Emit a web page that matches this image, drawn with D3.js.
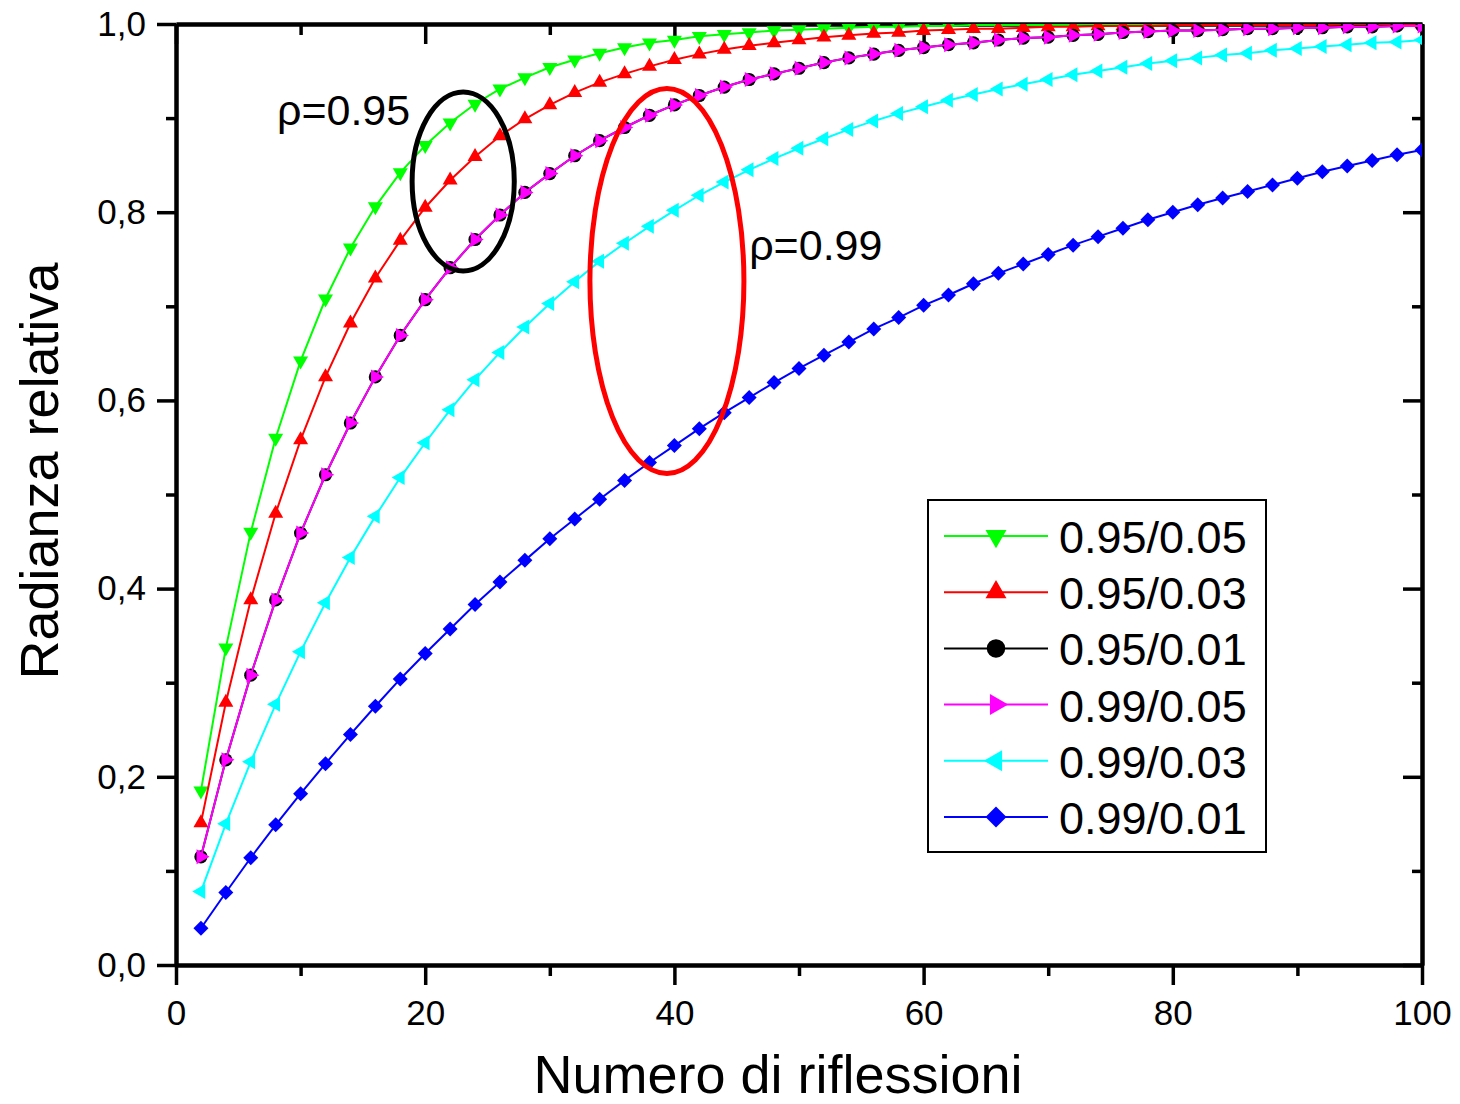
<!DOCTYPE html>
<html>
<head>
<meta charset="utf-8">
<script src="https://cdn.jsdelivr.net/npm/d3@7"></script>
<style>
  body { margin: 0; background: #fff; }
  svg { display: block; }
  text { font-family: "Liberation Sans", Arial, Helvetica, sans-serif; fill: #000; }
</style>
</head>
<body>
<svg id="chart" width="1460" height="1104"></svg>
<script>
// Number of reflections (x values shared by every series)
const reflections = [2,4,6,8,10,12,14,16,18,20,22,24,26,28,30,32,34,36,38,40,
  42,44,46,48,50,52,54,56,58,60,62,64,66,68,70,72,74,76,78,80,
  82,84,86,88,90,92,94,96,98,100];

// Relative radiance for each reflectance / absorption pair
const rad_095_005 = [0.185,0.337,0.460,0.560,0.642,0.708,0.762,0.806,0.842,0.871,
  0.895,0.915,0.931,0.943,0.954,0.962,0.969,0.975,0.980,0.983,
  0.987,0.989,0.991,0.993,0.994,0.995,0.996,0.997,0.997,0.998,
  0.998,0.999,0.999,0.999,0.999,0.999,1.000,1.000,1.000,1.000,
  1.000,1.000,1.000,1.000,1.000,1.000,1.000,1.000,1.000,1.000];
const rad_095_003 = [0.151,0.279,0.388,0.480,0.558,0.625,0.682,0.730,0.770,0.805,
  0.834,0.859,0.881,0.899,0.914,0.927,0.938,0.947,0.955,0.962,
  0.968,0.973,0.977,0.980,0.983,0.986,0.988,0.990,0.991,0.993,
  0.994,0.995,0.995,0.996,0.997,0.997,0.998,0.998,0.998,0.999,
  0.999,0.999,0.999,0.999,0.999,0.999,1.000,1.000,1.000,1.000];
const rad_095_001 = [0.115,0.218,0.308,0.388,0.459,0.521,0.576,0.625,0.669,0.707,
  0.741,0.771,0.797,0.821,0.841,0.860,0.876,0.890,0.903,0.914,
  0.924,0.933,0.941,0.947,0.953,0.959,0.964,0.968,0.972,0.975,
  0.978,0.980,0.983,0.985,0.986,0.988,0.989,0.991,0.992,0.993,
  0.993,0.994,0.995,0.995,0.996,0.996,0.997,0.997,0.998,0.998];
const rad_099_005 = [0.115,0.218,0.308,0.388,0.459,0.521,0.576,0.625,0.669,0.707,
  0.741,0.771,0.797,0.821,0.841,0.860,0.876,0.890,0.903,0.914,
  0.924,0.933,0.941,0.947,0.953,0.959,0.964,0.968,0.972,0.975,
  0.978,0.980,0.983,0.985,0.986,0.988,0.989,0.991,0.992,0.993,
  0.993,0.994,0.995,0.995,0.996,0.996,0.997,0.997,0.998,0.998];
const rad_099_003 = [0.078,0.150,0.216,0.277,0.333,0.385,0.433,0.477,0.518,0.555,
  0.590,0.622,0.651,0.678,0.703,0.726,0.748,0.767,0.785,0.802,
  0.818,0.832,0.845,0.857,0.868,0.878,0.888,0.897,0.905,0.912,
  0.919,0.925,0.931,0.936,0.941,0.946,0.950,0.954,0.958,0.961,
  0.964,0.967,0.969,0.972,0.974,0.976,0.978,0.980,0.981,0.983];
const rad_099_001 = [0.039,0.077,0.114,0.149,0.182,0.214,0.245,0.275,0.304,0.331,
  0.357,0.383,0.407,0.430,0.453,0.474,0.495,0.515,0.534,0.552,
  0.570,0.587,0.603,0.619,0.634,0.648,0.662,0.676,0.688,0.701,
  0.712,0.724,0.735,0.745,0.755,0.765,0.774,0.783,0.792,0.800,
  0.808,0.815,0.822,0.829,0.836,0.843,0.849,0.855,0.861,0.866];

const seriesNames = ["0.95/0.05","0.95/0.03","0.95/0.01","0.99/0.05","0.99/0.03","0.99/0.01"];
const seriesValues = [rad_095_005, rad_095_003, rad_095_001, rad_099_005, rad_099_003, rad_099_001];

// Axis ticks
const xMajorTicks = [0,20,40,60,80,100];
const xMinorTicks = [10,30,50,70,90];
const yMajorTicks = [0,0.2,0.4,0.6,0.8,1.0];
const yMinorTicks = [0.1,0.3,0.5,0.7,0.9];

// Styling per series
const seriesColors = ["#00ff00","#ff0000","#000000","#ff00ff","#00ffff","#0000ff"];
const seriesSymbols = ["down","up","circle","right","left","diamond"];

// Annotations: ellipses in data units and their labels
const groupEllipses = [
  {cx: 23.05, cy: 0.8326, rx: 4.10, ry: 0.0951, color: "#000000"},
  {cx: 39.40, cy: 0.7269, rx: 6.18, ry: 0.2046, color: "#ff0000"}
];
const groupLabels = [
  {text: "ρ=0.95", x: 8.1, y: 0.893},
  {text: "ρ=0.99", x: 46.0, y: 0.749}
];

const svg = d3.select("#chart");
const W = 1460, H = 1104;
const margin = {left: 176, top: 24, right: W - 1422, bottom: H - 965};
const x = d3.scaleLinear().domain([0, 100]).range([margin.left, W - margin.right]);
const y = d3.scaleLinear().domain([0, 1]).range([H - margin.bottom, margin.top]);

const locale = d3.formatLocale({decimal: ",", thousands: ".", grouping: [3], currency: ["", "€"]});
const yFmt = locale.format(".1f");

function styleAxis(g, fontSize) {
  g.attr("font-family", null).attr("font-size", null);
  g.select(".domain").attr("stroke", "#000").attr("stroke-width", 4);
  g.selectAll(".tick line").attr("stroke", "#000").attr("stroke-width", 3.5);
  g.selectAll(".tick text").style("font-size", fontSize + "px").attr("fill", "#000");
}

// Frame (drawn under the data, which is clipped to the plot area)
const axes = svg.append("g");
const x0 = x(0), x1 = x(100), y0 = y(0), y1 = y(1);

axes.append("g").attr("transform", `translate(0,${y0})`)
  .call(d3.axisBottom(x).tickValues(xMinorTicks).tickSize(11).tickSizeOuter(0).tickFormat(""))
  .call(g => styleAxis(g, 35));
axes.append("g").attr("transform", `translate(0,${y0})`)
  .call(d3.axisBottom(x).tickValues(xMajorTicks).tickSize(20).tickSizeOuter(0).tickPadding(15).tickFormat(d3.format("d")))
  .call(g => styleAxis(g, 35));
axes.append("g").attr("transform", `translate(${x0},0)`)
  .call(d3.axisLeft(y).tickValues(yMinorTicks).tickSize(10).tickSizeOuter(0).tickFormat(""))
  .call(g => styleAxis(g, 35));
axes.append("g").attr("transform", `translate(${x0},0)`)
  .call(d3.axisLeft(y).tickValues(yMajorTicks).tickSize(19).tickSizeOuter(0).tickPadding(11).tickFormat(yFmt))
  .call(g => styleAxis(g, 35));
// Mirror axes with inward ticks
axes.append("g").attr("transform", `translate(0,${y1})`)
  .call(d3.axisTop(x).tickValues(xMinorTicks).tickSize(-11).tickSizeOuter(0).tickFormat(""))
  .call(g => styleAxis(g, 35));
axes.append("g").attr("transform", `translate(0,${y1})`)
  .call(d3.axisTop(x).tickValues(xMajorTicks).tickSize(-20).tickSizeOuter(0).tickFormat(""))
  .call(g => styleAxis(g, 35));
axes.append("g").attr("transform", `translate(${x1},0)`)
  .call(d3.axisRight(y).tickValues(yMinorTicks).tickSize(-10).tickSizeOuter(0).tickFormat(""))
  .call(g => styleAxis(g, 35));
axes.append("g").attr("transform", `translate(${x1},0)`)
  .call(d3.axisRight(y).tickValues(yMajorTicks).tickSize(-19).tickSizeOuter(0).tickFormat(""))
  .call(g => styleAxis(g, 35));

// Axis titles
svg.append("text")
  .attr("x", 778).attr("y", 1093)
  .attr("text-anchor", "middle")
  .style("font-size", "54px")
  .text("Numero di riflessioni");
svg.append("text")
  .attr("transform", "translate(58,471) rotate(-90)")
  .attr("text-anchor", "middle")
  .style("font-size", "54px")
  .text("Radianza relativa");

// Marker shapes, centred on the centroid
function markerPath(kind, s) {
  const b = 7.5 * s, h = 13 * s;
  switch (kind) {
    case "down": return `M${-b},${-h/3}L${b},${-h/3}L0,${2*h/3}Z`;
    case "up": return `M${-b},${h/3}L${b},${h/3}L0,${-2*h/3}Z`;
    case "right": return `M${-h/3},${-b}L${-h/3},${b}L${2*h/3},0Z`;
    case "left": return `M${h/3},${-b}L${h/3},${b}L${-2*h/3},0Z`;
    case "diamond": { const d = 7.5 * s; return `M0,${-d}L${d},0L0,${d}L${-d},0Z`; }
    case "circle": { const r = 6.6 * s; return `M${r},0A${r},${r} 0 1,1 ${-r},0A${r},${r} 0 1,1 ${r},0Z`; }
  }
}

// Data layer
svg.append("clipPath").attr("id", "plotClip")
  .append("rect").attr("x", x0).attr("y", y1).attr("width", x1 - x0).attr("height", y0 - y1);
const plot = svg.append("g").attr("clip-path", "url(#plotClip)");

const line = d3.line().x(d => x(d[0])).y(d => y(d[1]));

seriesNames.forEach((name, i) => {
  const pts = reflections.map((n, j) => [n, seriesValues[i][j]]);
  const g = plot.append("g").attr("class", "series");
  g.append("path")
    .attr("d", line(pts))
    .attr("fill", "none")
    .attr("stroke", seriesColors[i])
    .attr("stroke-width", 2);
  g.selectAll("path.marker").data(pts).join("path")
    .attr("class", "marker")
    .attr("transform", d => `translate(${x(d[0])},${y(d[1])})`)
    .attr("d", markerPath(seriesSymbols[i], 1))
    .attr("fill", seriesColors[i]);
});

// Annotation ellipses and labels
groupEllipses.forEach(e => {
  svg.append("ellipse")
    .attr("cx", x(e.cx)).attr("cy", y(e.cy))
    .attr("rx", x(e.cx + e.rx) - x(e.cx))
    .attr("ry", y(e.cy) - y(e.cy + e.ry))
    .attr("fill", "none")
    .attr("stroke", e.color)
    .attr("stroke-width", 5);
});
groupLabels.forEach(l => {
  svg.append("text")
    .attr("x", x(l.x)).attr("y", y(l.y))
    .style("font-size", "43px")
    .text(l.text);
});

// Legend
const legend = svg.append("g");
legend.append("rect")
  .attr("x", 928).attr("y", 500).attr("width", 338).attr("height", 352)
  .attr("fill", "#fff").attr("stroke", "#000").attr("stroke-width", 2);
seriesNames.forEach((name, i) => {
  const cy = 536 + i * 56.2;
  const row = legend.append("g");
  row.append("line")
    .attr("x1", 944).attr("x2", 1048).attr("y1", cy).attr("y2", cy)
    .attr("stroke", seriesColors[i]).attr("stroke-width", 2);
  row.append("path")
    .attr("transform", `translate(996,${cy})`)
    .attr("d", markerPath(seriesSymbols[i], 1.4))
    .attr("fill", seriesColors[i]);
  row.append("text")
    .attr("x", 1059).attr("y", cy + 17)
    .style("font-size", "45px")
    .text(name);
});
</script>
</body>
</html>
